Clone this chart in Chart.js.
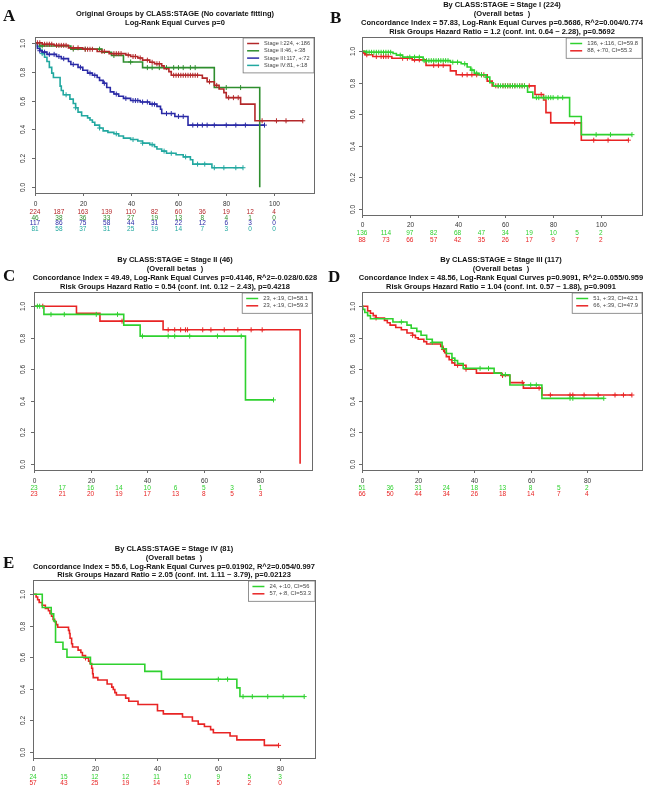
<!DOCTYPE html>
<html>
<head>
<meta charset="utf-8">
<script src="https://cdn.jsdelivr.net/npm/chart.js@4.4.1/dist/chart.umd.min.js"></script>
<style>
  body { margin: 0; background: #fff; width: 650px; height: 790px; position: relative; overflow: hidden; }
  canvas { position: absolute; }
</style>
</head>
<body>
<canvas id="pA"></canvas>
<canvas id="pB"></canvas>
<canvas id="pC"></canvas>
<canvas id="pD"></canvas>
<canvas id="pE"></canvas>
<script>
// ---- shared ticks ----
const yTicks = [0, 0.2, 0.4, 0.6, 0.8, 1.0];
const yTickLabels = ['0.0', '0.2', '0.4', '0.6', '0.8', '1.0'];
const xTicks100 = [0, 20, 40, 60, 80, 100];
const xTicks80 = [0, 20, 40, 60, 80];
const riskTimes100 = [0, 10, 20, 30, 40, 50, 60, 70, 80, 90, 100];
const riskTimes80 = [0, 10, 20, 30, 40, 50, 60, 70, 80];

// ---- A: all stages ----
const titleA = ['Original Groups by CLASS:STAGE (No covariate fitting)', 'Log-Rank Equal Curves p=0'];
const legendA = ['Stage I:224, +:186', 'Stage II:46, +:38', 'Stage III:117, +:72', 'Stage IV:81, +:18'];
const aT1 = [0,3,8,14,20,26,31,38,40,43,45,48,50,53,54,56,57,70,72,75,77,79,80,86,92,112];
const aS1 = [1,0.99,0.982,0.965,0.955,0.94,0.925,0.915,0.905,0.895,0.88,0.865,0.855,0.84,0.82,0.80,0.775,0.755,0.73,0.705,0.68,0.655,0.62,0.575,0.46,0.46];
const aC1 = [1,2,4,5,6,7,9,10,11,12,13,16,18,21,22,23,24,28,29,33,34,35,36,39,41,42,44,47,49,51,52,58,59,60,61,62,63,64,65,66,67,68,73,76,81,83,85,95,101,105,112];
const aT2 = [0,2,15,28,32,37,45,75,94];
const aS2 = [1,0.978,0.956,0.934,0.912,0.867,0.828,0.69,0];
const aC2 = [3,16,21,27,33,40,47,49,52,55,58,60,62,65,67,80,86];
const aT3 = [0,1,2,3,5,9,11,14,15,18,20,22,24,26,27,28.5,30,31.5,33,35,37,40,44,48,51,52.5,53,58.5,64,96];
const aS3 = [1,0.96,0.945,0.935,0.92,0.905,0.89,0.87,0.85,0.83,0.81,0.79,0.775,0.76,0.74,0.72,0.69,0.66,0.645,0.63,0.615,0.60,0.59,0.575,0.56,0.54,0.51,0.49,0.43,0.43];
const aC3 = [2,4,6,8,10,12,16,19,23,25,29,34,38,41,42,43,45,47,49,50,55,57,60,62,66,68,70,72,75,80,84,88,96];
const aT4 = [0,1,2,3,4,5,6,7,7.7,10.5,11,11.8,14.6,16,17,18,19.5,22,23,24,25,27,28.5,30.5,33,35,37,40,43,45,48,50,51,53,55,59,62,65,66,74,87];
const aS4 = [1,0.975,0.95,0.925,0.90,0.87,0.83,0.79,0.76,0.70,0.67,0.64,0.61,0.58,0.55,0.52,0.495,0.48,0.465,0.45,0.43,0.41,0.39,0.38,0.37,0.355,0.34,0.33,0.32,0.305,0.295,0.28,0.265,0.25,0.235,0.225,0.21,0.19,0.16,0.135,0.135];
const aC4 = [3,13,17,27,34,41,45,49,54,57,63,68,71,75,79,84,87];
const aRisk1 = [224,187,163,139,110,82,60,36,19,12,4];
const aRisk2 = [46,38,36,33,27,19,13,8,4,1,0];
const aRisk3 = [117,86,75,58,44,31,22,12,6,3,0];
const aRisk4 = [81,58,37,31,25,19,14,7,3,0,0];

// ---- B: Stage I ----
const titleB = ['By CLASS:STAGE = Stage I (224)', '(Overall betas  )',
  'Concordance Index = 57.83, Log-Rank Equal Curves p=0.5686, R^2=0.004/0.774',
  'Risk Groups Hazard Ratio = 1.2 (conf. int. 0.64 ~ 2.28), p=0.5692'];
const legendB = ['136, +:116, CI=59.8', '88, +:70, CI=55.3'];
const bT1 = [0,1.7,13,14.4,17,25.6,37,41.5,44,45.5,47,49,52,53.5,55,69.3,71.5,86.9,91.8,113];
const bS1 = [1,0.993,0.985,0.975,0.962,0.94,0.93,0.92,0.90,0.88,0.86,0.85,0.835,0.80,0.78,0.74,0.705,0.585,0.47,0.47];
const bC1 = [2,3,4,5,6,7,8,9,10,11,12,16,20,22,24,26,27,28,29,30,31,32,33,34,35,36,38,40,43,46,48,50,52,57,58,59,60,61,62,63,64,65,66,67,68,73,74,76,77,78,79,80,82,84,98,104,113];
const bT2 = [0,0.5,1.5,4.5,12.5,21,26.8,37,39.4,52.4,54.5,72.4,76,77,79,91.8,111.5];
const bS2 = [1,0.989,0.977,0.966,0.955,0.945,0.91,0.875,0.85,0.81,0.78,0.725,0.69,0.61,0.545,0.435,0.435];
const bC2 = [1,2,6,8,9,10,11,17,19,22,24,30,32,34,42,44,46,48,50,51,56,57,59,60,61,62,63,64,66,67,68,70,75,89,97,103,111.5];
const bRisk1 = [136,114,97,82,68,47,34,19,10,5,2];
const bRisk2 = [88,73,66,57,42,35,26,17,9,7,2];

// ---- C: Stage II ----
const titleC = ['By CLASS:STAGE = Stage II (46)', '(Overall betas  )',
  'Concordance Index = 49.49, Log-Rank Equal Curves p=0.4146, R^2=-0.028/0.628',
  'Risk Groups Hazard Ratio = 0.54 (conf. int. 0.12 ~ 2.43), p=0.4218'];
const legendC = ['23, +:19, CI=58.1', '23, +:19, CI=59.3'];
const cT1 = [0,3.5,31.7,37.5,74.7,84.6];
const cS1 = [1,0.948,0.88,0.81,0.405,0.405];
const cC1 = [1.2,2,6,10.7,22,29.5,38.3,47.4,49.7,55,64.8,73.2,84.6];
const cT2 = [0,15,23.3,45.6,94];
const cS2 = [1,0.955,0.905,0.85,0];
const cC2 = [3.1,31.1,47.4,49.7,51.8,53.5,54.2,59.6,62.5,67.2,72,76.7,80.6];
const cRisk1 = [23,17,16,14,10,6,5,3,1];
const cRisk2 = [23,21,20,19,17,13,8,5,3];

// ---- D: Stage III ----
const titleD = ['By CLASS:STAGE = Stage III (117)', '(Overall betas  )',
  'Concordance Index = 48.56, Log-Rank Equal Curves p=0.9091, R^2=-0.055/0.959',
  'Risk Groups Hazard Ratio = 1.04 (conf. int. 0.57 ~ 1.88), p=0.9091'];
const legendD = ['51, +:33, CI=42.1', '66, +:39, CI=47.9'];
const dT1 = [0,0.3,1,2,3,11,16,17.5,19.5,21,23,25,28.5,30,32,33,34,36,47,49.6,52.6,64,86];
const dS1 = [1,0.98,0.96,0.94,0.92,0.90,0.88,0.86,0.84,0.815,0.79,0.77,0.73,0.70,0.67,0.655,0.635,0.605,0.575,0.565,0.50,0.415,0.415];
const dC1 = [14,25,33,42,45,51,60,62,74,75,86];
const dT2 = [0,2,3,4,5,8,9,10,12,14,16,18,19,20,22,23,28,28.8,29.4,30,31,32,33,37,40.7,49.6,52.6,57.4,64,96];
const dS2 = [1,0.97,0.955,0.94,0.925,0.91,0.895,0.88,0.865,0.85,0.83,0.815,0.80,0.79,0.775,0.76,0.745,0.725,0.705,0.68,0.66,0.64,0.625,0.60,0.575,0.56,0.515,0.48,0.436,0.436];
const dC2 = [5,18,29,34,37,50,57,63,67,74,75,79,84,90,93,96];
const dRisk1 = [51,36,31,24,18,13,8,5,2];
const dRisk2 = [66,50,44,34,26,18,14,7,4];

// ---- E: Stage IV ----
const titleE = ['By CLASS:STAGE = Stage IV (81)', '(Overall betas  )',
  'Concordance Index = 55.6, Log-Rank Equal Curves p=0.01902, R^2=0.054/0.997',
  'Risk Groups Hazard Ratio = 2.05 (conf. int. 1.11 ~ 3.79), p=0.02123'];
const legendE = ['24, +:10, CI=56', '57, +:8, CI=53.3'];
const eT1 = [0,3,5.9,6.7,7.3,9.7,11,18.6,36.2,41.6,66,67,87.8];
const eS1 = [1,0.915,0.875,0.83,0.695,0.65,0.60,0.555,0.51,0.46,0.405,0.35,0.35];
const eC1 = [60,63,68,71,76,81,87.8];
const eT2 = [0,1,1.5,2,3,4,5,5.5,6,6.5,7,7.5,8,11.5,11.8,12,12.5,12.8,14.6,15.5,16,17,18,18.5,19,19.3,19.5,21,24,25.5,26,26.5,27,30,31,34,40.3,42.2,48.4,51.6,53.5,55.5,57.5,58.4,63.8,66,74.9,79.5];
const eS2 = [1,0.982,0.965,0.947,0.93,0.91,0.895,0.877,0.86,0.84,0.825,0.807,0.79,0.77,0.75,0.72,0.685,0.665,0.645,0.63,0.61,0.595,0.575,0.56,0.53,0.495,0.47,0.455,0.43,0.41,0.395,0.375,0.36,0.34,0.32,0.30,0.26,0.24,0.22,0.195,0.175,0.16,0.14,0.12,0.10,0.075,0.04,0.04];
const eC2 = [17,79.5];
const eRisk1 = [24,15,12,12,11,10,9,5,3];
const eRisk2 = [57,43,25,19,14,9,5,2,0];

// colours
const GREEN = '#2fd12f', RED = '#e82424';

// layout of each panel (canvas-local pixel positions)
const panels = [
  { id: 'pA', left: 0, top: 0, w: 325, h: 255, pad: { left: 35, right: 11, top: 37, bottom: 62 },
    xMax: 116.7, yMin: -0.04, yMax: 1.04, letter: 'A', letterX: 3, letterY: 21,
    title: titleA, titleX: 175, titleY: [14, 23], xLabelY: 204, yLabelX: 23,
    riskY: [212, 218, 223.5, 229], xTicks: xTicks100, riskTimes: riskTimes100, legendFont: 5.6,
    curves: [
      { t: aT1, s: aS1, cens: aC1, risk: aRisk1, label: legendA[0], color: '#b3282a' },
      { t: aT2, s: aS2, cens: aC2, risk: aRisk2, label: legendA[1], color: '#2e8e2e' },
      { t: aT3, s: aS3, cens: aC3, risk: aRisk3, label: legendA[2], color: '#2a2aa6' },
      { t: aT4, s: aS4, cens: aC4, risk: aRisk4, label: legendA[3], color: '#22a8a0' }
    ] },
  { id: 'pB', left: 325, top: 0, w: 325, h: 255, pad: { left: 37, right: 8, top: 37, bottom: 40 },
    xMax: 117.2, yMin: -0.04, yMax: 1.09, letter: 'B', letterX: 5, letterY: 23,
    title: titleB, titleX: 177, titleY: [5, 14, 23, 32], xLabelY: 225, yLabelX: 28,
    riskY: [233, 240], xTicks: xTicks100, riskTimes: riskTimes100, legendFont: 5.8,
    curves: [
      { t: bT1, s: bS1, cens: bC1, risk: bRisk1, label: legendB[0], color: GREEN },
      { t: bT2, s: bS2, cens: bC2, risk: bRisk2, label: legendB[1], color: RED }
    ] },
  { id: 'pC', left: 0, top: 255, w: 317, h: 255, pad: { left: 34, right: 2, top: 37, bottom: 40 },
    xMax: 98.2, yMin: -0.04, yMax: 1.09, letter: 'C', letterX: 3, letterY: 26,
    title: titleC, titleX: 175, titleY: [5, 14, 23, 32], xLabelY: 226, yLabelX: 23,
    riskY: [233, 239], xTicks: xTicks80, riskTimes: riskTimes80, legendFont: 5.8,
    curves: [
      { t: cT1, s: cS1, cens: cC1, risk: cRisk1, label: legendC[0], color: GREEN },
      { t: cT2, s: cS2, cens: cC2, risk: cRisk2, label: legendC[1], color: RED }
    ] },
  { id: 'pD', left: 325, top: 255, w: 325, h: 255, pad: { left: 37, right: 8, top: 37, bottom: 40 },
    xMax: 99.6, yMin: -0.04, yMax: 1.09, letter: 'D', letterX: 3, letterY: 27,
    title: titleD, titleX: 176, titleY: [5, 14, 23, 32], xLabelY: 226, yLabelX: 28,
    riskY: [233, 239], xTicks: xTicks80, riskTimes: riskTimes80, legendFont: 5.8,
    curves: [
      { t: dT1, s: dS1, cens: dC1, risk: dRisk1, label: legendD[0], color: GREEN },
      { t: dT2, s: dS2, cens: dC2, risk: dRisk2, label: legendD[1], color: RED }
    ] },
  { id: 'pE', left: 0, top: 510, w: 325, h: 280, pad: { left: 33, right: 10, top: 70, bottom: 32 },
    xMax: 91.3, yMin: -0.04, yMax: 1.09, letter: 'E', letterX: 3, letterY: 58,
    title: titleE, titleX: 174, titleY: [38.5, 47.5, 56.5, 65], xLabelY: 259, yLabelX: 23,
    riskY: [267, 273], xTicks: xTicks80, riskTimes: riskTimes80, legendFont: 5.8,
    curves: [
      { t: eT1, s: eS1, cens: eC1, risk: eRisk1, label: legendE[0], color: GREEN },
      { t: eT2, s: eS2, cens: eC2, risk: eRisk2, label: legendE[1], color: RED }
    ] }
];

// value of a step curve at time t (for placing the censor marks on it)
function survAt(times, surv, t) {
  let s = surv[0];
  for (let i = 0; i < times.length; i++) {
    if (times[i] <= t) s = surv[i];
  }
  return s;
}

// box, axes, titles, legend and numbers-at-risk, all placed through the scales
function makeDecor(p) {
  return {
    id: 'kmDecor',
    afterDraw(chart) {
      const ctx = chart.ctx, a = chart.chartArea;
      const xs = chart.scales.x, ys = chart.scales.y;
      ctx.save();
      ctx.strokeStyle = '#6a6a6a';
      ctx.lineWidth = 1;
      ctx.strokeRect(Math.round(a.left) + 0.5, Math.round(a.top) + 0.5,
        Math.round(a.right - a.left), Math.round(a.bottom - a.top));

      // x axis
      ctx.font = '6.5px "Liberation Sans", Arial, sans-serif';
      ctx.fillStyle = '#333';
      ctx.textAlign = 'center';
      ctx.textBaseline = 'middle';
      p.xTicks.forEach(v => {
        const x = Math.round(xs.getPixelForValue(v)) + 0.5;
        ctx.beginPath();
        ctx.moveTo(x, a.bottom);
        ctx.lineTo(x, a.bottom + 3);
        ctx.stroke();
        ctx.fillText(String(v), x, p.xLabelY);
      });
      // y axis, rotated labels
      yTicks.forEach((v, i) => {
        const y = Math.round(ys.getPixelForValue(v)) + 0.5;
        ctx.beginPath();
        ctx.moveTo(a.left, y);
        ctx.lineTo(a.left - 3, y);
        ctx.stroke();
        ctx.save();
        ctx.translate(p.yLabelX, y);
        ctx.rotate(-Math.PI / 2);
        ctx.fillText(yTickLabels[i], 0, 0);
        ctx.restore();
      });

      // numbers at risk
      p.curves.forEach((c, j) => {
        ctx.fillStyle = c.color;
        c.risk.forEach((n, i) => {
          ctx.fillText(String(n), xs.getPixelForValue(p.riskTimes[i]), p.riskY[j]);
        });
      });

      // title
      ctx.fillStyle = '#111';
      ctx.font = 'bold 7.5px "Liberation Sans", Arial, sans-serif';
      p.title.forEach((line, i) => ctx.fillText(line, p.titleX, p.titleY[i]));

      // panel letter
      ctx.font = 'bold 17px "Liberation Serif", "Times New Roman", serif';
      ctx.textAlign = 'left';
      ctx.textBaseline = 'alphabetic';
      ctx.fillText(p.letter, p.letterX, p.letterY);

      // legend at top right
      ctx.font = p.legendFont + 'px "Liberation Sans", Arial, sans-serif';
      const row = 7.3;
      const tw = Math.max(...p.curves.map(c => ctx.measureText(c.label).width));
      const lw = 21 + tw + 4;
      const lh = 5.5 + (p.curves.length - 1) * row + 7.5;
      const lx = a.right - lw, ly = a.top + 1;
      ctx.fillStyle = '#fff';
      ctx.fillRect(lx, ly, lw, lh);
      ctx.strokeStyle = '#777';
      ctx.lineWidth = 0.8;
      ctx.strokeRect(lx, ly, lw, lh);
      ctx.textBaseline = 'middle';
      p.curves.forEach((c, j) => {
        const y = ly + 5.5 + j * row;
        ctx.strokeStyle = c.color;
        ctx.lineWidth = 1.5;
        ctx.beginPath();
        ctx.moveTo(lx + 4, y);
        ctx.lineTo(lx + 16, y);
        ctx.stroke();
        ctx.fillStyle = '#444';
        ctx.fillText(c.label, lx + 21, y);
      });
      ctx.restore();
    }
  };
}

function kmDatasets(curves) {
  const ds = [];
  curves.forEach(c => {
    ds.push({
      type: 'line',
      data: c.t.map((t, i) => ({ x: t, y: c.s[i] })),
      borderColor: c.color,
      borderWidth: 1.6,
      stepped: true,
      pointRadius: 0,
      fill: false
    });
    ds.push({
      type: 'scatter',
      data: c.cens.map(t => ({ x: t, y: survAt(c.t, c.s, t) })),
      borderColor: c.color,
      backgroundColor: c.color,
      pointStyle: 'cross',
      pointRadius: 2.5,
      borderWidth: 1
    });
  });
  return ds;
}

panels.forEach(p => {
  const canvas = document.getElementById(p.id);
  canvas.width = p.w;
  canvas.height = p.h;
  canvas.style.left = p.left + 'px';
  canvas.style.top = p.top + 'px';
  canvas.style.width = p.w + 'px';
  canvas.style.height = p.h + 'px';

  new Chart(canvas.getContext('2d'), {
    type: 'line',
    data: { datasets: kmDatasets(p.curves) },
    options: {
      responsive: false,
      animation: false,
      events: [],
      layout: { padding: p.pad },
      plugins: { legend: { display: false }, title: { display: false }, tooltip: { enabled: false } },
      scales: {
        x: { type: 'linear', display: false, min: 0, max: p.xMax },
        y: { type: 'linear', display: false, min: p.yMin, max: p.yMax }
      }
    },
    plugins: [makeDecor(p)]
  });
});
</script>
</body>
</html>
